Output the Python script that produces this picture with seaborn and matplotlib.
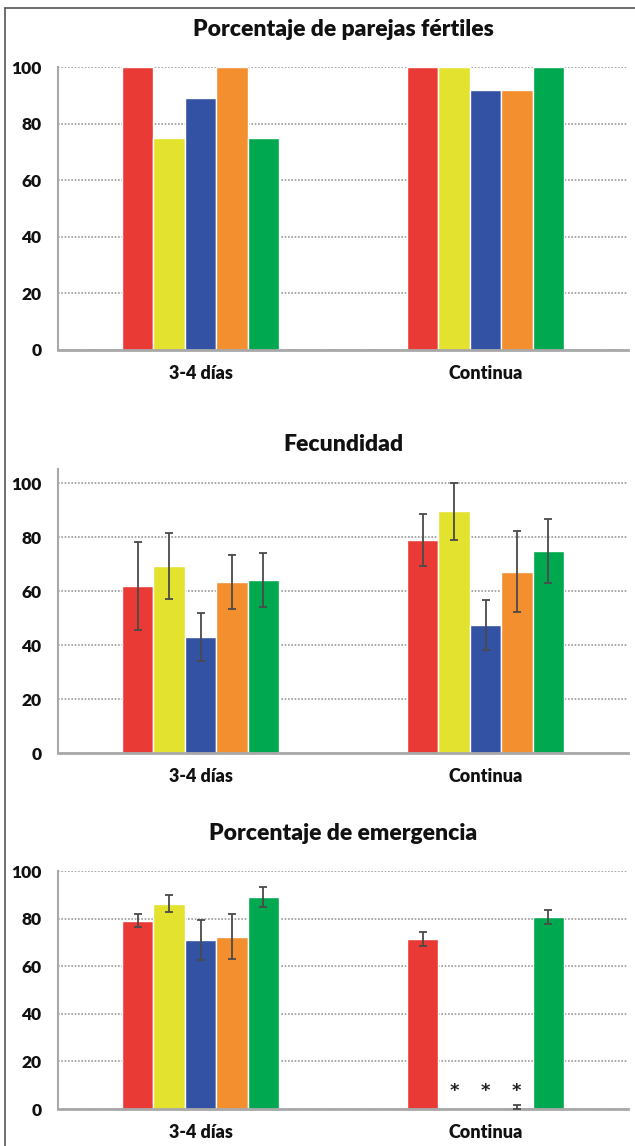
import numpy as np
import pandas as pd
import matplotlib
matplotlib.use("Agg")
import matplotlib.pyplot as plt
import seaborn as sns
from matplotlib.lines import Line2D

# ---------------- data ----------------
categories = ["3-4 días", "Continua"]
series = ["T1", "T2", "T3", "T4", "T5"]
colors = ["#EA3A36", "#E3E22E", "#3352A3", "#F38F2F", "#00A84F"]

titles = ["Porcentaje de parejas fértiles", "Fecundidad", "Porcentaje de emergencia"]

fert_34 = [100, 75, 88.9, 100, 75]
fert_cont = [100, 100, 91.7, 91.7, 100]

fec_34 = [62.0, 69.3, 42.9, 63.4, 63.9]
fec_34_err = [16.3, 12.3, 8.9, 10.0, 10.0]
fec_cont = [78.9, 89.5, 47.3, 67.1, 74.8]
fec_cont_err = [9.7, 10.6, 9.3, 15.0, 11.9]

emer_34 = [79.2, 86.2, 71.2, 72.4, 89.0]
emer_34_err = [2.8, 3.6, 8.4, 9.4, 4.3]
emer_cont = [71.5, 0.0, 0.0, 0.8, 80.7]
emer_cont_err = [3.0, np.nan, np.nan, 1.0, 3.0]
emer_cont_star = [False, True, True, True, False]
star_level = 7.5

yticks = [0, 20, 40, 60, 80, 100]

# ---------------- style ----------------
sns.set_theme(style="white")
plt.rcParams["font.family"] = ["Lato", "DejaVu Sans"]
plt.rcParams["font.weight"] = "bold"

W, H = 635, 1146
fig = plt.figure(figsize=(W / 100, H / 100), dpi=100)
fig.patch.set_facecolor("white")


def fy(py):
    return 1 - py / H


panels = [
    dict(vals=[fert_34, fert_cont], errs=None, ylim=(0, 100), top=67, bottom=350, title_y=30),
    dict(vals=[fec_34, fec_cont], errs=[fec_34_err, fec_cont_err], ylim=(0, 105),
         top=753 - 105 * 2.70, bottom=753, title_y=444),
    dict(vals=[emer_34, emer_cont], errs=[emer_34_err, emer_cont_err], ylim=(0, 100),
         top=871, bottom=1109, title_y=833),
]

left_px, right_px = 58, 628

for pi, p in enumerate(panels):
    ax = fig.add_axes([left_px / W, fy(p["bottom"]), (right_px - left_px) / W,
                       (p["bottom"] - p["top"]) / H])
    rows = []
    for ci, cat in enumerate(categories):
        for si, s in enumerate(series):
            rows.append({"cat": cat, "serie": s, "val": p["vals"][ci][si]})
    df = pd.DataFrame(rows)
    sns.barplot(data=df, x="cat", y="val", hue="serie", hue_order=series,
                order=categories, palette=colors, width=0.55, saturation=1,
                errorbar=None, legend=False, ax=ax, zorder=2)
    bar_containers = list(ax.containers)

    # error bars placed at the bar centres
    if p["errs"] is not None:
        for si, cont in enumerate(bar_containers):
            for ci, bar in enumerate(cont):
                e = p["errs"][ci][si]
                if np.isnan(e):
                    continue
                x = bar.get_x() + bar.get_width() / 2
                ax.errorbar(x, bar.get_height(), yerr=e, fmt="none",
                            ecolor="#4a4a4a", elinewidth=1.3, capsize=3,
                            capthick=1.3, zorder=3)

    if pi == 2:
        for si, cont in enumerate(bar_containers):
            bar = cont[1]
            if emer_cont_star[si]:
                ax.text(bar.get_x() + bar.get_width() / 2, star_level, "*",
                        ha="center", va="center", fontsize=13, color="#222222",
                        family="DejaVu Sans", fontweight="bold")

    ax.set_xlim(-0.5, 1.5)
    ax.set_ylim(*p["ylim"])
    ax.set_yticks(yticks)
    ax.set_xlabel("")
    ax.set_ylabel("")
    ax.set_axisbelow(True)
    ax.yaxis.grid(True, linestyle=(0, (1, 1)), color="#9a9a9a", linewidth=1.2)
    ax.xaxis.grid(False)
    for s in ["top", "right"]:
        ax.spines[s].set_visible(False)
    ax.spines["left"].set_color("#a8a8a8")
    ax.spines["left"].set_linewidth(1.5)
    ax.spines["bottom"].set_color("#a8a8a8")
    ax.spines["bottom"].set_linewidth(2)
    ax.tick_params(axis="y", length=0, pad=12, labelsize=12.5, labelcolor="#111111")
    ax.tick_params(axis="x", length=0, pad=11, labelsize=13, labelcolor="#111111")
    for lbl in ax.get_xticklabels() + ax.get_yticklabels():
        lbl.set_fontweight("heavy")

    fig.text(343 / W, fy(p["title_y"]), titles[pi], ha="center", va="center",
             fontsize=16.5, fontweight="heavy", color="#111111")

# outer frame
fig.add_artist(Line2D([5 / W, 5 / W], [0, fy(8)], transform=fig.transFigure,
                      color="#555555", linewidth=1.2))
fig.add_artist(Line2D([5 / W, 1], [fy(8), fy(8)], transform=fig.transFigure,
                      color="#555555", linewidth=1.2))

fig.savefig("out.png", dpi=100, facecolor="white")
